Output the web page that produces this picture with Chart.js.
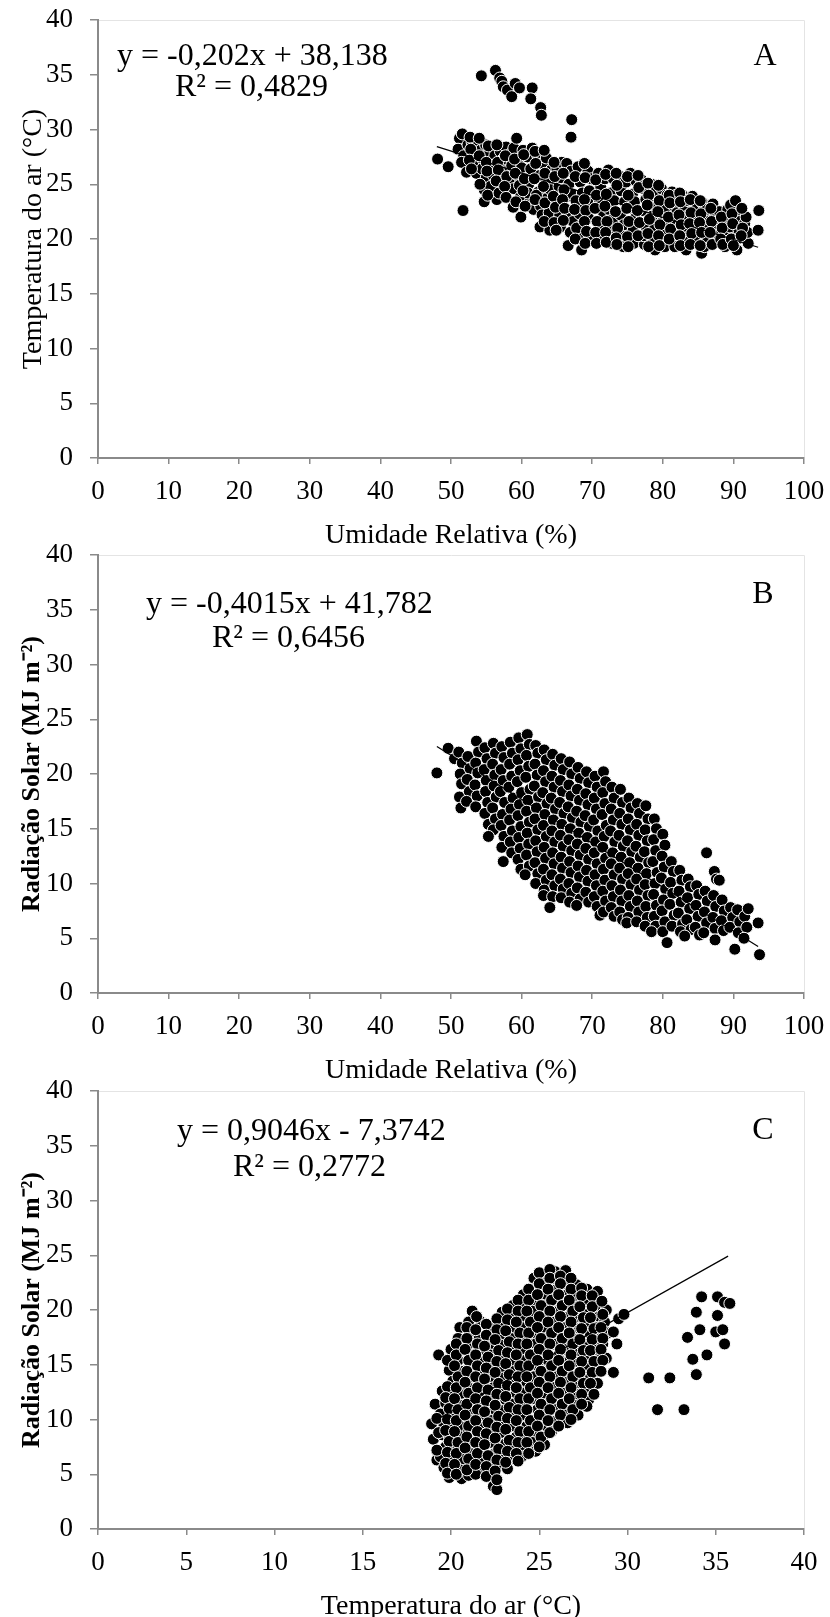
<!DOCTYPE html>
<html>
<head>
<meta charset="utf-8">
<script src="https://cdn.jsdelivr.net/npm/chart.js@4.4.1/dist/chart.umd.min.js"></script>
<style>
html, body { margin: 0; padding: 0; background: #fff; width: 830px; height: 1617px; overflow: hidden; }
canvas { position: absolute; left: 0; }
</style>
</head>
<body>
<canvas id="graficoA" width="830" height="555" style="top:0px"></canvas>
<canvas id="graficoB" width="830" height="555" style="top:535px"></canvas>
<canvas id="graficoC" width="830" height="555" style="top:1071px"></canvas>
<script>
// A: umidade relativa (%) x temperatura do ar (°C)
const dadosA = [
    [54.3,34.9],[56.3,35.4],[56.9,34.7],[57.2,34.4],[57.4,33.9],[58.0,33.6],[58.6,33.0],[59.1,34.2],[59.7,33.8],[61.5,33.8],[61.3,32.8],[62.7,32.0],[62.8,31.3],[67.1,30.9],[67.0,29.3],
    [48.1,27.3],[49.6,26.6],[51.7,22.6],
    [51.2,29.2],[51.6,29.6],[51.0,28.2],[51.8,27.6],[51.5,27.0],[52.2,26.1],[52.4,28.6],
    [53.0,28.8],[53.3,27.8],[53.1,26.8],[53.6,26.0],[53.4,29.0],
    [54.2,28.1],[54.6,27.2],[54.7,24.5],[54.7,23.4],[54.4,26.4],[54.9,28.6],[55.0,25.6],
    [55.5,27.9],[55.8,26.8],[55.3,28.5],[56.0,25.8],[55.6,24.8],[56.5,23.6],[56.2,27.6],
    [57.0,28.0],[57.3,26.9],[57.1,25.2],[57.6,24.3],[57.8,28.4],[57.4,27.3],[58.0,26.2],
    [58.5,27.8],[58.8,22.9],[58.3,25.5],[58.9,24.6],[58.6,26.7],[58.9,28.3],
    [59.3,29.2],[59.6,27.2],[59.9,22.0],[59.5,25.8],[59.8,23.8],[60.0,26.5],[59.7,24.9],[60.2,28.1],
    [60.8,27.5],[61.0,25.0],[61.2,23.4],[60.9,24.2],[61.3,26.4],[61.5,28.3],[61.7,22.7],
    [62.3,27.6],[62.6,25.8],[62.4,24.3],[62.7,23.0],[62.6,21.1],[63.0,26.9],[62.9,22.2],
    [63.5,27.4],[63.8,25.2],[63.6,23.7],[64.0,20.8],[63.9,22.4],[64.2,26.3],[64.1,24.5],
    [65.0,26.4],[65.3,24.8],[65.1,23.2],[65.5,21.1],[65.4,22.2],[65.7,27.0],[65.6,25.6],
    [66.4,26.9],[66.7,25.0],[66.5,23.9],[66.6,19.4],[66.9,20.6],[66.8,22.5],[67.0,26.2],[67.2,24.1],[67.3,21.6],
    [68.0,26.6],[68.3,25.2],[68.1,23.1],[68.5,19.0],[68.4,21.2],[68.6,24.2],[68.8,20.2],[68.2,22.3],
    [69.4,26.2],[69.6,24.4],[69.5,21.9],[69.8,22.9],[70.0,20.0],[69.9,25.5],[70.2,23.6],
    [70.9,26.0],[71.2,24.8],[71.0,23.3],[71.4,20.1],[71.3,21.3],[71.6,22.4],[71.8,25.5],
    [72.3,26.3],[72.6,24.2],[72.4,22.7],[72.8,19.6],[72.7,20.9],[73.0,25.5],[73.1,23.5],[72.9,21.8],
    [73.8,25.8],[74.1,24.4],[74.0,22.2],[74.4,19.3],[74.3,20.5],[74.6,23.4],[74.5,21.3],[74.8,25.2],
    [75.4,26.0],[75.7,24.1],[75.6,22.8],[75.9,19.6],[75.8,20.8],[76.1,21.9],[76.2,25.3],[76.0,23.4],
    [77.0,25.4],[77.2,24.6],[77.1,22.6],[77.4,19.5],[77.5,21.2],[77.6,23.6],[77.3,20.3],
    [78.4,25.0],[78.7,23.9],[78.5,22.1],[78.9,19.0],[78.8,20.9],[79.0,24.4],[79.1,23.0],[78.6,20.0],
    [79.8,24.6],[80.1,23.6],[79.9,22.2],[80.3,19.3],[80.2,20.5],[80.5,21.5],[80.6,24.0],[80.4,22.8],
    [81.3,24.3],[81.6,23.0],[81.4,21.8],[81.7,19.3],[81.8,20.6],[82.0,22.4],[81.9,24.0],
    [82.8,24.0],[83.1,22.9],[82.9,21.0],[83.3,19.0],[83.2,20.1],[83.5,22.1],[83.6,23.5],
    [84.2,23.9],[84.5,22.6],[84.4,21.0],[84.7,19.7],[84.9,22.0],[84.8,23.2],[84.6,20.3],
    [85.6,23.3],[85.9,22.0],[85.5,18.7],[85.9,19.3],[86.1,21.1],[86.3,20.2],[86.2,22.7],
    [87.1,23.2],[87.4,22.1],[87.3,20.9],[87.6,19.8],[87.8,21.4],[88.0,22.5],[87.9,20.3],
    [88.8,19.3],[89.2,22.7],[89.0,21.6],[89.4,20.5],[89.6,23.1],[89.5,21.1],
    [90.3,23.5],[90.5,19.0],[90.6,22.1],[90.8,20.8],[90.9,21.6],[91.0,20.1],
    [91.6,21.4],[92.1,19.6],[92.0,20.6],[91.8,22.0],
    [93.5,20.8],[93.6,22.6],
    // miolo da nuvem
    [52.7,29.3],[52.8,28.2],[52.6,27.2],[52.9,26.4],
    [54.0,27.6],[54.1,25.0],[54.0,29.2],
    [55.0,27.0],[55.1,26.2],[55.2,24.0],
    [56.5,28.6],[56.6,27.0],[56.7,26.3],[56.4,25.3],[56.8,24.2],
    [57.7,27.6],[57.9,25.7],[57.6,24.8],[57.8,23.8],
    [59.0,27.3],[59.1,26.0],[59.2,23.4],
    [60.3,27.7],[60.4,25.5],[60.2,24.4],[60.5,23.0],
    [61.9,28.0],[62.0,26.9],[61.8,25.5],[62.1,24.0],[61.9,23.6],
    [63.2,28.1],[63.3,26.0],[63.1,24.8],[63.3,23.3],[63.2,21.6],
    [64.6,27.0],[64.7,25.7],[64.5,23.9],[64.8,22.9],[64.6,21.5],[64.9,20.8],
    [65.9,26.0],[66.0,24.5],[65.8,23.6],[66.1,22.8],[65.9,21.7],
    [67.6,25.7],[67.7,23.5],[67.5,22.7],[67.8,21.0],[67.6,20.0],
    [68.9,26.9],[69.0,25.6],[68.9,23.6],[69.1,22.6],[68.9,21.6],[69.2,20.7],[69.0,19.6],
    [70.5,25.4],[70.6,24.0],[70.4,22.8],[70.7,21.6],[70.5,20.6],[70.6,19.6],
    [71.9,25.9],[72.0,24.1],[71.8,23.0],[72.1,21.6],[71.9,20.6],[72.0,19.7],
    [73.4,26.0],[73.5,24.9],[73.3,22.5],[73.6,21.0],[73.4,20.1],[73.5,19.5],
    [75.0,25.7],[75.1,24.0],[74.9,22.8],[75.2,21.6],[75.0,20.2],[75.1,19.3],
    [76.5,25.8],[76.6,24.7],[76.4,22.6],[76.7,21.5],[76.5,20.3],
    [77.9,25.1],[78.0,24.0],[77.8,23.1],[78.1,21.8],[77.9,20.5],[78.0,19.3],
    [79.4,24.9],[79.5,23.5],[79.3,22.5],[79.6,21.3],[79.4,20.3],[79.5,19.4],
    [80.9,24.0],[81.0,23.3],[80.8,22.0],[81.1,20.9],[80.9,20.0],
    [82.4,24.2],[82.5,23.4],[82.3,22.2],[82.6,21.3],[82.4,20.3],[82.5,19.4],
    [83.9,23.6],[84.0,22.4],[83.8,21.4],[84.1,20.5],[83.9,19.5],
    [85.3,23.5],[85.4,22.3],[85.2,21.5],[85.5,20.6],[85.3,19.4],
    [86.8,22.8],[86.9,21.6],[86.7,20.6],[87.0,19.5],
    [88.3,22.0],[88.4,21.0],[88.2,20.0],[88.5,19.5],
    [89.8,22.3],[89.9,21.4],[89.7,20.0],[90.0,19.4],
    [91.2,22.8],[91.3,21.0],[91.1,20.3]
];

// B: umidade relativa (%) x radiacao solar (MJ m-2)
const dadosB = [
    [48.0,20.1],[49.6,22.35],[50.5,21.4],
    [51.1,22.0],[51.6,21.0],[51.3,20.0],[51.5,19.1],[51.2,17.9],[51.4,16.9],
    [52.4,21.6],[52.7,20.5],[52.3,19.5],[52.6,18.4],[52.2,17.5],
    [53.6,23.0],[53.9,22.0],[53.5,21.0],[53.8,20.1],[53.4,19.0],[53.7,18.0],[53.5,17.0],
    [54.8,22.4],[55.1,21.4],[54.7,20.4],[55.0,19.4],[54.9,18.4],[55.2,17.4],[54.8,16.4],[55.3,15.4],
    [56.0,22.8],[56.3,21.9],[55.9,20.9],[56.2,19.9],[56.1,18.9],[56.4,17.9],[55.9,16.9],[56.3,15.9],[56.0,14.9],[55.3,14.3],
    [57.2,22.5],[57.5,21.5],[57.1,20.4],[57.4,19.4],[57.0,18.4],[57.6,17.4],[57.3,16.3],[57.1,15.3],[57.5,14.3],[57.2,13.3],[57.4,12.0],
    [58.4,22.9],[58.7,21.9],[58.3,20.9],[58.6,19.8],[58.2,18.8],[58.8,17.8],[58.5,16.8],[58.3,15.8],[58.7,14.8],[58.4,13.8],[58.6,12.8],
    [59.6,23.3],[59.9,22.3],[59.5,21.3],[59.8,20.3],[59.4,19.3],[60.0,18.3],[59.7,17.2],[59.5,16.2],[59.9,15.2],[59.6,14.2],[59.8,13.2],[59.5,12.2],[59.9,11.3],
    [60.8,23.6],[61.1,22.7],[60.7,21.7],[61.0,20.7],[60.6,19.7],[61.2,18.6],[60.9,17.6],[60.7,16.6],[61.1,15.6],[60.8,14.6],[61.0,13.6],[60.7,12.6],[61.1,11.6],[60.5,10.8],
    [62.0,22.6],[62.3,21.9],[61.9,20.9],[62.2,19.9],[61.8,18.9],[62.4,17.9],[62.1,16.9],[61.9,15.9],[62.3,14.9],[62.0,13.9],[62.2,12.9],[61.9,11.9],[62.3,10.9],[62.0,10.0],
    [63.2,22.2],[63.5,21.3],[63.1,20.3],[63.4,19.3],[63.0,18.3],[63.6,17.3],[63.3,16.3],[63.1,15.3],[63.5,14.3],[63.2,13.3],[63.4,12.3],[63.1,11.3],[63.5,10.3],[63.2,9.4],[63.1,8.9],
    [64.4,21.8],[64.7,20.8],[64.3,19.8],[64.6,18.8],[64.2,17.8],[64.8,16.8],[64.5,15.8],[64.3,14.8],[64.7,13.8],[64.4,12.8],[64.6,11.8],[64.3,10.8],[64.7,9.8],[64.4,8.8],[64.0,7.8],
    [65.6,21.4],[65.9,20.4],[65.5,19.4],[65.8,18.4],[65.4,17.4],[66.0,16.4],[65.7,15.4],[65.5,14.4],[65.9,13.4],[65.6,12.4],[65.8,11.4],[65.5,10.4],[65.9,9.5],[65.6,8.7],
    [66.8,21.1],[67.1,20.0],[66.7,19.0],[67.0,18.0],[66.6,17.0],[67.2,16.0],[66.9,15.0],[66.7,14.0],[67.1,13.0],[66.8,12.0],[67.0,11.0],[66.7,10.0],[67.1,9.1],[66.8,8.3],
    [68.0,20.6],[68.3,19.6],[67.9,18.6],[68.2,17.6],[67.8,16.6],[68.4,15.6],[68.1,14.6],[67.9,13.6],[68.3,12.6],[68.0,11.6],[68.2,10.6],[67.9,9.6],[68.3,8.6],[67.8,8.0],
    [69.2,20.2],[69.5,19.2],[69.1,18.2],[69.4,17.2],[69.0,16.2],[69.6,15.2],[69.3,14.2],[69.1,13.2],[69.5,12.2],[69.2,11.2],[69.4,10.2],[69.1,9.2],[69.5,8.3],
    [70.4,19.8],[70.7,18.8],[70.3,17.8],[70.6,16.8],[70.2,15.8],[70.8,14.8],[70.5,13.8],[70.3,12.8],[70.7,11.8],[70.4,10.8],[70.6,9.8],[70.3,8.8],[70.7,7.9],[71.1,7.1],
    [71.6,20.2],[71.9,19.3],[71.5,18.3],[71.8,17.3],[71.4,16.3],[72.0,15.3],[71.7,14.3],[71.5,13.3],[71.9,12.3],[71.6,11.3],[71.8,10.3],[71.5,9.3],[71.9,8.4],[71.6,7.4],
    [72.8,18.8],[73.1,17.8],[72.7,16.8],[73.0,15.8],[72.6,14.8],[73.2,13.8],[72.9,12.8],[72.7,11.8],[73.1,10.8],[72.8,9.8],[73.0,8.8],[72.7,7.8],[73.1,7.0],
    [74.0,18.6],[74.3,17.4],[73.9,16.4],[74.2,15.4],[73.8,14.4],[74.4,13.4],[74.1,12.4],[73.9,11.4],[74.3,10.4],[74.0,9.4],[74.2,8.4],[73.9,7.4],[74.3,6.7],
    [75.2,17.8],[75.5,16.9],[75.1,15.9],[75.4,14.9],[75.0,13.9],[75.6,12.9],[75.3,11.9],[75.1,10.9],[75.5,9.9],[75.2,8.9],[75.4,7.9],[75.1,6.9],[74.9,6.4],
    [76.4,17.3],[76.7,16.4],[76.3,15.4],[76.6,14.4],[76.2,13.4],[76.8,12.4],[76.5,11.4],[76.3,10.4],[76.7,9.4],[76.4,8.4],[76.6,7.4],[76.3,6.5],
    [77.6,17.1],[77.9,15.9],[77.5,14.9],[77.8,13.9],[77.4,12.9],[78.0,11.9],[77.7,10.9],[77.5,9.9],[77.9,8.9],[77.6,7.9],[77.8,6.9],[77.5,6.1],
    [78.8,15.9],[79.1,15.0],[78.7,14.0],[79.0,13.0],[78.6,12.0],[79.2,11.0],[78.9,10.0],[78.7,9.0],[79.1,8.0],[78.8,7.0],[79.0,6.1],[78.4,5.6],
    [80.0,14.5],[80.3,13.5],[79.9,12.5],[80.2,11.5],[79.8,10.5],[80.4,9.5],[80.1,8.5],[79.9,7.5],[80.3,6.5],[80.0,5.6],
    [81.2,12.0],[81.5,11.1],[81.1,10.1],[81.4,9.1],[81.0,8.1],[81.6,7.1],[81.3,6.1],[80.6,4.6],
    [82.4,11.2],[82.7,10.3],[82.3,9.3],[82.6,8.3],[82.2,7.3],[82.8,6.3],[82.5,5.6],
    [83.6,10.4],[83.9,9.7],[83.5,8.7],[83.8,7.7],[83.4,6.7],[84.0,5.8],[83.1,5.2],
    [84.8,9.8],[85.1,9.0],[84.7,8.0],[85.0,7.0],[84.6,6.0],[85.2,5.3],
    [86.2,12.8],[86.0,9.3],[86.3,8.4],[85.9,7.4],[86.2,6.4],[85.8,5.5],
    [87.3,11.1],[87.6,10.4],[87.2,8.9],[87.5,7.9],[87.1,6.9],[87.4,5.9],[87.4,4.85],
    [88.0,10.3],[88.4,8.5],[88.7,7.5],[88.3,6.6],[88.6,5.7],
    [89.6,7.8],[89.9,6.9],[89.5,6.0],
    [90.6,7.6],[90.9,6.5],[90.7,5.5],[90.2,4.0],
    [91.6,7.0],[91.9,6.0],[91.5,5.0],
    [92.1,7.7],[93.5,6.4],[93.7,3.5]
];

// C: temperatura do ar (°C) x radiacao solar (MJ m-2)
const dadosC = [
    [18.9,9.6],[19.1,11.4],[19.2,6.3],[19.0,8.2],[19.3,15.9],
    [19.5,12.6],[19.7,11.5],[19.4,10.5],[19.6,9.5],[19.5,8.6],[19.7,7.5],[19.4,6.6],[19.6,5.6],
    [20.0,16.4],[19.9,14.5],[20.1,13.5],[19.9,12.5],[20.2,11.5],[20.0,10.5],[20.1,9.5],[19.9,8.5],[20.2,7.5],[20.0,6.5],[20.1,5.5],[19.9,4.7],
    [20.5,18.4],[20.4,17.4],[20.6,16.4],[20.4,15.4],[20.7,14.4],[20.5,13.4],[20.6,12.4],[20.4,11.4],[20.7,10.4],[20.5,9.4],[20.6,8.4],[20.4,7.4],[20.7,6.4],[20.5,5.4],[20.6,4.6],
    [21.2,19.9],[21.0,18.9],[21.2,17.9],[21.0,16.9],[21.3,15.9],[21.1,14.9],[21.2,13.9],[21.0,12.9],[21.3,11.9],[21.1,10.9],[21.2,9.9],[21.0,8.9],[21.3,7.9],[21.1,6.9],[21.2,5.9],[21.0,4.9],
    [21.7,18.9],[21.6,17.4],[21.8,16.4],[21.6,15.4],[21.9,14.4],[21.7,13.4],[21.8,12.4],[21.6,11.4],[21.9,10.4],[21.7,9.4],[21.8,8.4],[21.6,7.4],[21.9,6.4],[21.7,5.4],[21.4,5.0],
    [22.3,18.5],[22.2,17.9],[22.4,16.9],[22.2,15.9],[22.5,14.9],[22.3,13.9],[22.4,12.9],[22.2,11.9],[22.5,10.9],[22.3,9.9],[22.4,8.9],[22.2,7.9],[22.5,6.9],[22.3,5.9],[22.2,4.9],
    [22.9,19.8],[22.8,18.8],[23.0,17.8],[22.8,16.8],[23.1,15.8],[22.9,14.8],[23.0,13.8],[22.8,12.8],[23.1,11.8],[22.9,10.8],[23.0,9.8],[22.8,8.8],[23.1,7.8],[22.9,6.8],[23.0,5.8],[22.4,3.9],[22.6,3.6],
    [23.5,20.4],[23.4,19.4],[23.6,18.4],[23.4,17.4],[23.7,16.4],[23.5,15.4],[23.6,14.4],[23.4,13.4],[23.7,12.4],[23.5,11.4],[23.6,10.4],[23.4,9.4],[23.7,8.4],[23.5,7.4],[23.6,6.4],[23.2,5.5],
    [24.1,21.4],[24.0,20.4],[24.2,19.4],[24.0,18.4],[24.3,17.4],[24.1,16.4],[24.2,15.4],[24.0,14.4],[24.3,13.4],[24.1,12.4],[24.2,11.4],[24.0,10.4],[24.3,9.4],[24.1,8.4],[24.2,7.4],[24.0,6.6],
    [24.7,22.9],[24.6,21.9],[24.8,20.9],[24.6,19.9],[24.9,18.9],[24.7,17.9],[24.8,16.9],[24.6,15.9],[24.9,14.9],[24.7,13.9],[24.8,12.9],[24.6,11.9],[24.9,10.9],[24.7,9.9],[24.8,8.9],[24.6,7.9],[24.8,7.1],
    [25.3,23.2],[25.2,22.4],[25.4,21.4],[25.2,20.4],[25.5,19.4],[25.3,18.4],[25.4,17.4],[25.2,16.4],[25.5,15.4],[25.3,14.4],[25.4,13.4],[25.2,12.4],[25.5,11.4],[25.3,10.4],[25.4,9.4],[25.2,8.4],[25.3,7.7],
    [25.9,23.5],[25.8,22.9],[26.0,21.9],[25.8,20.9],[26.1,19.9],[25.9,18.9],[26.0,17.9],[25.8,16.9],[26.1,15.9],[25.9,14.9],[26.0,13.9],[25.8,12.9],[26.1,11.9],[25.9,10.9],[26.0,9.9],[25.7,8.9],
    [26.5,23.6],[26.4,22.4],[26.6,21.4],[26.4,20.4],[26.7,19.4],[26.5,18.4],[26.6,17.4],[26.4,16.4],[26.7,15.4],[26.5,14.4],[26.6,13.4],[26.4,12.4],[26.7,11.4],[26.5,10.4],[26.6,9.7],
    [27.1,22.3],[27.0,21.3],[27.2,20.3],[27.0,19.3],[27.3,18.3],[27.1,17.3],[27.2,16.3],[27.0,15.3],[27.3,14.3],[27.1,13.3],[27.2,12.3],[27.0,11.3],[27.2,10.4],
    [27.7,21.9],[27.6,20.8],[27.8,19.8],[27.6,18.8],[27.9,17.8],[27.7,16.8],[27.8,15.8],[27.6,14.8],[27.9,13.8],[27.7,12.8],[27.8,11.8],[27.7,11.2],
    [28.3,21.7],[28.2,20.4],[28.4,19.4],[28.2,18.4],[28.5,17.4],[28.3,16.4],[28.4,15.4],[28.2,14.4],[28.3,13.3],
    [28.8,20.0],[28.7,18.9],[28.9,17.9],[28.6,16.9],[28.8,15.6],
    [29.2,18.0],[29.4,16.9],[29.2,14.3],[29.5,19.2],[29.8,19.6],
    [31.2,13.8],[32.4,13.8],[31.7,10.9],[33.2,10.9],
    [33.4,17.5],[33.7,15.5],[33.9,14.1],[34.5,15.9],[34.1,18.2],[33.9,19.8],[34.2,21.2],[35.1,21.2],[35.5,20.7],[35.8,20.6],[35.1,19.5],[35.0,18.0],[35.4,18.2],[35.5,16.9],
    // miolo da nuvem
    [19.2,10.1],[19.3,8.8],[19.2,7.2],
    [19.8,15.4],[19.8,13.0],[19.7,12.0],[19.9,11.0],[19.8,10.0],[19.7,9.0],[19.9,8.0],[19.8,7.0],[19.7,6.0],[19.8,5.1],
    [20.3,16.9],[20.3,15.9],[20.2,14.9],[20.4,13.9],[20.3,12.9],[20.2,11.9],[20.4,10.9],[20.3,9.9],[20.2,8.9],[20.4,7.9],[20.3,6.9],[20.2,5.9],[20.3,5.0],
    [20.9,18.4],[20.9,17.4],[20.8,16.4],[21.0,15.4],[20.9,14.4],[20.8,13.4],[21.0,12.4],[20.9,11.4],[20.8,10.4],[21.0,9.4],[20.9,8.4],[20.8,7.4],[21.0,6.4],[20.9,5.4],
    [21.45,19.4],[21.4,18.2],[21.5,16.9],[21.4,15.9],[21.5,14.9],[21.4,13.9],[21.5,12.9],[21.4,11.9],[21.5,10.9],[21.4,9.9],[21.5,8.9],[21.4,7.9],[21.5,6.9],[21.4,5.9],
    [22.0,18.7],[22.0,17.7],[21.9,16.7],[22.1,15.7],[22.0,14.7],[21.9,13.7],[22.1,12.7],[22.0,11.7],[21.9,10.7],[22.1,9.7],[22.0,8.7],[21.9,7.7],[22.1,6.7],[22.0,5.7],[22.0,4.8],
    [22.6,19.2],[22.6,18.2],[22.5,17.3],[22.7,16.3],[22.6,15.3],[22.5,14.3],[22.7,13.3],[22.6,12.3],[22.5,11.3],[22.7,10.3],[22.6,9.3],[22.5,8.3],[22.7,7.3],[22.6,6.3],[22.5,5.3],[22.6,4.5],
    [23.2,20.1],[23.2,19.1],[23.1,18.1],[23.3,17.1],[23.2,16.1],[23.1,15.1],[23.3,14.1],[23.2,13.1],[23.1,12.1],[23.3,11.1],[23.2,10.1],[23.1,9.1],[23.3,8.1],[23.2,7.1],[23.1,6.1],
    [23.8,20.9],[23.8,19.9],[23.7,18.9],[23.9,17.9],[23.8,16.9],[23.7,15.9],[23.9,14.9],[23.8,13.9],[23.7,12.9],[23.9,11.9],[23.8,10.9],[23.7,9.9],[23.9,8.9],[23.8,7.9],[23.7,6.9],[23.8,6.2],
    [24.4,21.9],[24.4,20.9],[24.3,19.9],[24.5,18.9],[24.4,17.9],[24.3,16.9],[24.5,15.9],[24.4,14.9],[24.3,13.9],[24.5,12.9],[24.4,11.9],[24.3,10.9],[24.5,9.9],[24.4,8.9],[24.3,7.9],[24.4,6.9],
    [25.0,23.4],[25.0,22.4],[24.9,21.4],[25.1,20.4],[25.0,19.4],[24.9,18.4],[25.1,17.4],[25.0,16.4],[24.9,15.4],[25.1,14.4],[25.0,13.4],[24.9,12.4],[25.1,11.4],[25.0,10.4],[24.9,9.4],[25.1,8.4],[25.0,7.5],
    [25.6,23.7],[25.6,22.9],[25.5,21.9],[25.7,20.9],[25.6,19.9],[25.5,18.9],[25.7,17.9],[25.6,16.9],[25.5,15.9],[25.7,14.9],[25.6,13.9],[25.5,12.9],[25.7,11.9],[25.6,10.9],[25.5,9.9],[25.6,8.8],
    [26.2,23.1],[26.2,22.4],[26.1,21.4],[26.3,20.4],[26.2,19.4],[26.1,18.4],[26.3,17.4],[26.2,16.4],[26.1,15.4],[26.3,14.4],[26.2,13.4],[26.1,12.4],[26.3,11.4],[26.2,10.4],[26.1,9.4],
    [26.8,22.9],[26.8,21.9],[26.7,20.9],[26.9,19.9],[26.8,18.9],[26.7,17.9],[26.9,16.9],[26.8,15.9],[26.7,14.9],[26.9,13.9],[26.8,12.9],[26.7,11.9],[26.9,10.9],[26.8,10.0],
    [27.4,22.0],[27.4,21.3],[27.3,20.3],[27.5,19.3],[27.4,18.3],[27.3,17.3],[27.5,16.3],[27.4,15.3],[27.3,14.3],[27.5,13.3],[27.4,12.3],[27.4,11.4],
    [28.0,21.3],[28.0,20.3],[27.9,19.3],[28.1,18.3],[28.0,17.3],[27.9,16.3],[28.1,15.3],[28.0,14.3],[27.9,13.3],[28.1,12.3],
    [28.55,20.8],[28.6,19.6],[28.5,18.4],[28.6,17.4],[28.5,16.4],[28.6,15.4],[28.5,14.4]
];

// pontas das linhas de tendencia
const tendenciaA = [[48.0,28.44],[93.5,19.25]];
const tendenciaB = [[48.0,22.51],[93.5,4.24]];
const tendenciaC = [[19.0,9.81],[35.7,24.92]];

const ticksUmidade = { min: 0, max: 100, passo: 10 };
const ticksTemperatura = { min: 0, max: 40, passo: 5 };
const ticksY = { min: 0, max: 40, passo: 5 };

const fonte = '"Liberation Serif", "Times New Roman", serif';
Chart.defaults.font.family = fonte;
Chart.defaults.color = '#000';

const textosPlugin = {
    id: 'textos',
    beforeDatasetsDraw(chart) {
        const { ctx, chartArea: a } = chart;
        ctx.save();
        ctx.strokeStyle = '#e4e4e4';
        ctx.lineWidth = 1;
        ctx.beginPath();
        ctx.moveTo(a.left + 1, a.top + 0.5);
        ctx.lineTo(a.right + 0.5, a.top + 0.5);
        ctx.lineTo(a.right + 0.5, a.bottom - 1);
        ctx.stroke();
        ctx.restore();
    },
    afterDraw(chart, args, opts) {
        const ctx = chart.ctx;
        ctx.save();
        ctx.fillStyle = '#000';
        ctx.font = '32px ' + fonte;
        ctx.textBaseline = 'alphabetic';
        ctx.textAlign = 'left';
        opts.linhas.forEach(l => ctx.fillText(l.texto, l.x, l.y));
        ctx.textAlign = 'center';
        ctx.fillText(opts.letra.texto, opts.letra.x, opts.letra.y);
        ctx.restore();
    }
};

function eixo(t, titulo, fonteTitulo, vertical) {
    return {
        type: 'linear',
        min: t.min,
        max: t.max,
        ticks: {
            stepSize: t.passo,
            font: { size: 27 },
            color: '#000',
            padding: vertical ? 17 : 12,
            maxRotation: 0,
            autoSkip: false
        },
        grid: {
            display: true,
            drawOnChartArea: false,
            drawTicks: true,
            tickLength: vertical ? 8 : 6,
            color: '#8a8a8a',
            lineWidth: 1.5
        },
        border: { color: '#8a8a8a', width: 2 },
        title: {
            display: true,
            text: titulo,
            font: fonteTitulo,
            color: '#000',
            padding: vertical ? { top: 17, bottom: 0 } : { top: 0, bottom: 3 }
        },
        // tamanho fixo dos eixos, sem a folga automatica dos rotulos
        afterFit: vertical
            ? (s) => { s.width = 98; s.paddingTop = 0; s.paddingBottom = 0; }
            : (s) => { s.height = 97; s.paddingLeft = 0; s.paddingRight = 0; }
    };
}

function criarGrafico(id, pontos, tendencia, tx, tituloX, tituloY, fonteY, textos) {
    new Chart(document.getElementById(id), {
        type: 'scatter',
        data: {
            datasets: [
                {
                    data: tendencia.map(p => ({ x: p[0], y: p[1] })),
                    showLine: true,
                    borderColor: '#000',
                    borderWidth: 1.2,
                    pointRadius: 0,
                    order: 0
                },
                {
                    data: pontos.map(p => ({ x: p[0], y: p[1] })),
                    backgroundColor: '#000',
                    borderColor: '#fff',
                    borderWidth: 1,
                    pointRadius: 6,
                    order: 1
                }
            ]
        },
        options: {
            responsive: false,
            animation: false,
            layout: { padding: { top: 20, right: 26, left: 0, bottom: 0 } },
            plugins: {
                legend: { display: false },
                tooltip: { enabled: false },
                textos: textos
            },
            scales: {
                x: eixo(tx, tituloX, { size: 28 }, false),
                y: eixo(ticksY, tituloY, fonteY, true)
            }
        },
        plugins: [textosPlugin]
    });
}

criarGrafico('graficoA', dadosA, tendenciaA, ticksUmidade,
    'Umidade Relativa (%)', 'Temperatura do ar (°C)', { size: 28 },
    {
        linhas: [
            { texto: 'y = -0,202x + 38,138', x: 117, y: 65 },
            { texto: 'R² = 0,4829', x: 175, y: 96 }
        ],
        letra: { texto: 'A', x: 765, y: 65 }
    });

criarGrafico('graficoB', dadosB, tendenciaB, ticksUmidade,
    'Umidade Relativa (%)', 'Radiação Solar (MJ m⁻²)', { size: 26, weight: 'bold' },
    {
        linhas: [
            { texto: 'y = -0,4015x + 41,782', x: 146, y: 78 },
            { texto: 'R² = 0,6456', x: 212, y: 112 }
        ],
        letra: { texto: 'B', x: 763, y: 68 }
    });

criarGrafico('graficoC', dadosC, tendenciaC, ticksTemperatura,
    'Temperatura do ar (°C)', 'Radiação Solar (MJ m⁻²)', { size: 26, weight: 'bold' },
    {
        linhas: [
            { texto: 'y = 0,9046x - 7,3742', x: 177, y: 69 },
            { texto: 'R² = 0,2772', x: 233, y: 105 }
        ],
        letra: { texto: 'C', x: 763, y: 68 }
    });
</script>
</body>
</html>
